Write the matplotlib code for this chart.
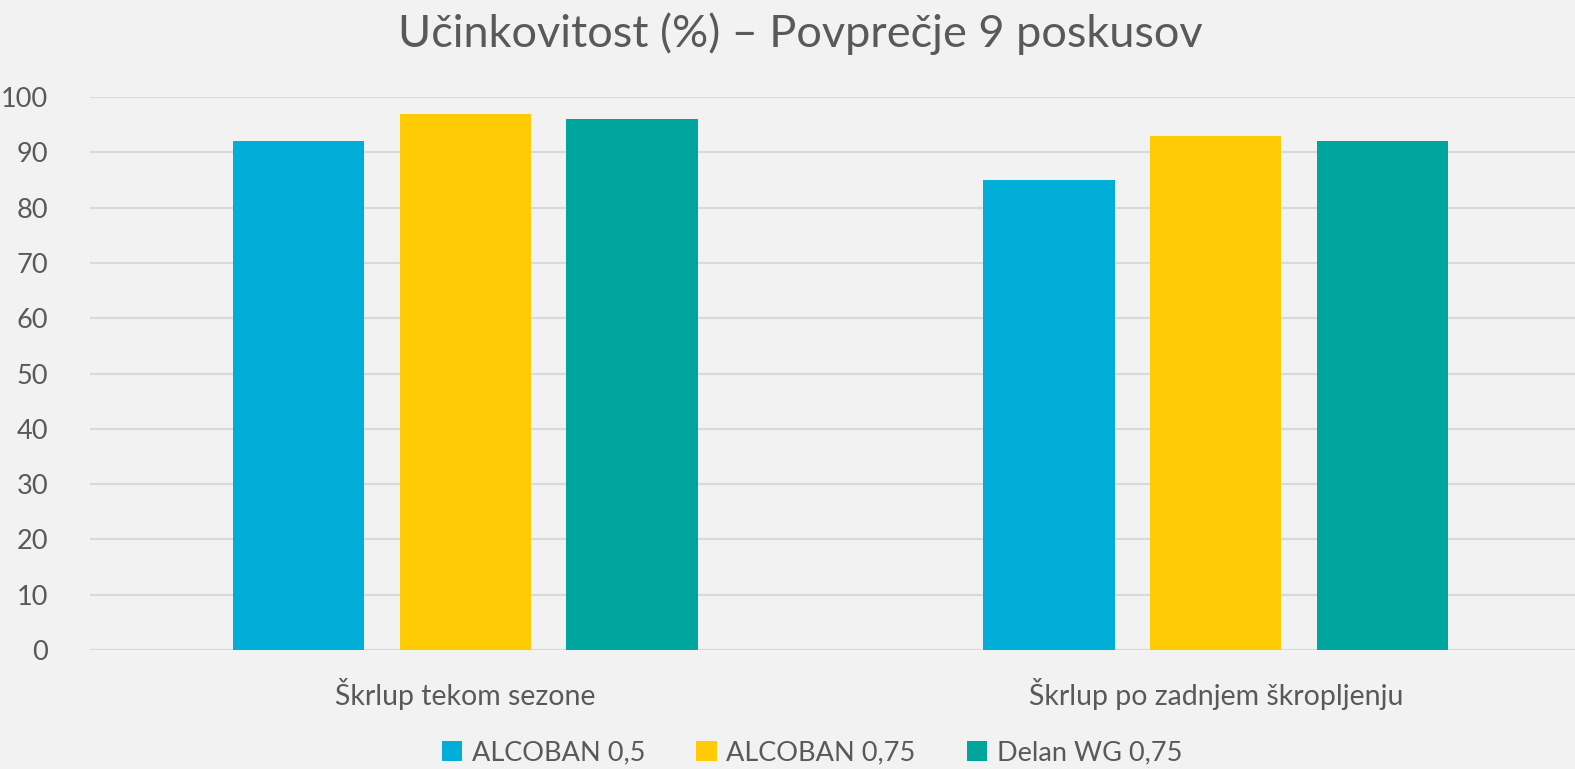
import matplotlib
matplotlib.use('Agg')
import numpy as np
import matplotlib.pyplot as plt

# Chart data
categories = ['Škrlup tekom sezone', 'Škrlup po zadnjem škropljenju']
series_names = ['ALCOBAN 0,5', 'ALCOBAN 0,75', 'Delan WG 0,75']
series_values = [
    [92, 85],
    [97, 93],
    [96, 92],
]
colors = ['#00AED7', '#FFCB05', '#00A59D']
yticks = [0, 10, 20, 30, 40, 50, 60, 70, 80, 90, 100]

plt.rcParams['font.family'] = ['Lato', 'DejaVu Sans']
text_color = '#595959'
bg = '#F2F2F2'

fig = plt.figure(figsize=(15.75, 7.69), dpi=100, facecolor=bg)
ax = fig.add_axes([90 / 1575, 1 - 650 / 769, 1501 / 1575, 553 / 769])
ax.set_facecolor(bg)

x = np.arange(len(categories))
step = 0.222
width = 0.175
for j, (name, vals) in enumerate(zip(series_names, series_values)):
    ax.bar(x + (j - 1) * step, vals, width, color=colors[j], label=name, zorder=3)

ax.set_xlim(-0.5, len(categories) - 0.5)
ax.set_ylim(0, 100)
ax.set_yticks(yticks)
ax.set_xticks(x)
ax.set_xticklabels(categories, fontsize=20.5)
ax.tick_params(axis='both', length=0, colors=text_color)
ax.tick_params(axis='y', pad=30, labelsize=19.5)
ax.tick_params(axis='x', pad=20)
ax.yaxis.grid(True, color='#D9D9D9', linewidth=1.5, zorder=0)
for s in ax.spines.values():
    s.set_visible(False)
ax.axhline(0, color='#D9D9D9', linewidth=1.5, zorder=2)

fig.text(0.5 + 13 / 1575, 1 - 47 / 769, 'Učinkovitost (%) – Povprečje 9 poskusov', ha='center',
         va='baseline', fontsize=32.5, color=text_color)

leg = fig.legend(loc='center', bbox_to_anchor=(812 / 1575, 1 - 753 / 769), ncol=3, frameon=False,
                 fontsize=19.5, handlelength=0.75, handleheight=0.75, handletextpad=0.35,
                 columnspacing=1.9, labelcolor=text_color)

fig.savefig('out.png', dpi=100, facecolor=bg)
